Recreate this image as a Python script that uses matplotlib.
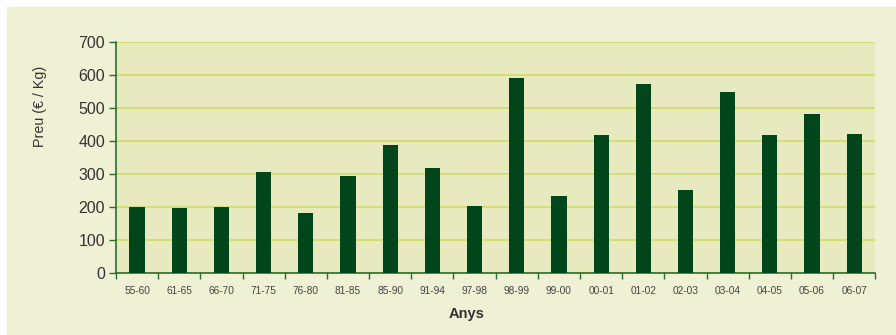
import matplotlib
matplotlib.use("Agg")
import matplotlib.pyplot as plt
import numpy as np
from matplotlib.patches import Rectangle

categories = ["55-60", "61-65", "66-70", "71-75", "76-80", "81-85", "85-90", "91-94", "97-98",
              "98-99", "99-00", "00-01", "01-02", "02-03", "03-04", "04-05", "05-06", "06-07"]
prices = [202, 199, 202, 308, 184, 296, 389, 320, 205,
          592, 235, 420, 574, 253, 550, 420, 483, 423]
yticks = [0, 100, 200, 300, 400, 500, 600, 700]

plt.rcParams['font.family'] = ['Liberation Sans', 'DejaVu Sans']

W, H = 896, 335
fig = plt.figure(figsize=(W / 100, H / 100), dpi=100)
fig.patch.set_facecolor("white")
fig.patches.append(Rectangle((7 / W, 0), 1 - 7 / W, 1 - 7 / H, transform=fig.transFigure,
                             facecolor="#EEF1D4", edgecolor="none", zorder=-10))

ax = fig.add_axes([116 / W, 1 - 273.3 / H, (875.3 - 116) / W, (273.3 - 42.3) / H])
ax.set_facecolor("#E6EABE")

x = np.arange(len(categories))
ax.bar(x, prices, width=0.36, color="#00461A", zorder=3)

ax.set_xlim(-0.5, len(categories) - 0.5)
ax.set_ylim(0, 700)
ax.set_yticks(yticks)
ax.set_yticklabels([str(v) for v in yticks], fontsize=11.5, color="#333333")
ax.yaxis.grid(True, color="#D4DC6E", linewidth=1.3, zorder=1)
ax.set_axisbelow(True)

ax.set_xticks(x)
ax.set_xticklabels(categories, fontsize=7.3, color="#444444")
ax.tick_params(axis="x", which="major", length=0, pad=9.5)
ax.set_xticks(np.arange(len(categories) + 1) - 0.5, minor=True)
ax.tick_params(axis="x", which="minor", length=4, color="#2E6B30", width=1)
ax.tick_params(axis="y", length=5, color="#2E6B30", width=1, pad=3)

for s in ["top", "right"]:
    ax.spines[s].set_visible(False)
for s in ["left", "bottom"]:
    ax.spines[s].set_color("#2E6B30")
    ax.spines[s].set_linewidth(1.2)

fig.text(467 / W, 1 - 314 / H, "Anys", fontsize=10.5, color="#333333", fontweight="bold",
         ha="center", va="center")
fig.text(39.5 / W, 1 - 106 / H, "Preu (€ / Kg)", fontsize=10.3, color="#333333",
         rotation=90, ha="center", va="center")

fig.savefig("out.png", dpi=100, facecolor=fig.get_facecolor())
